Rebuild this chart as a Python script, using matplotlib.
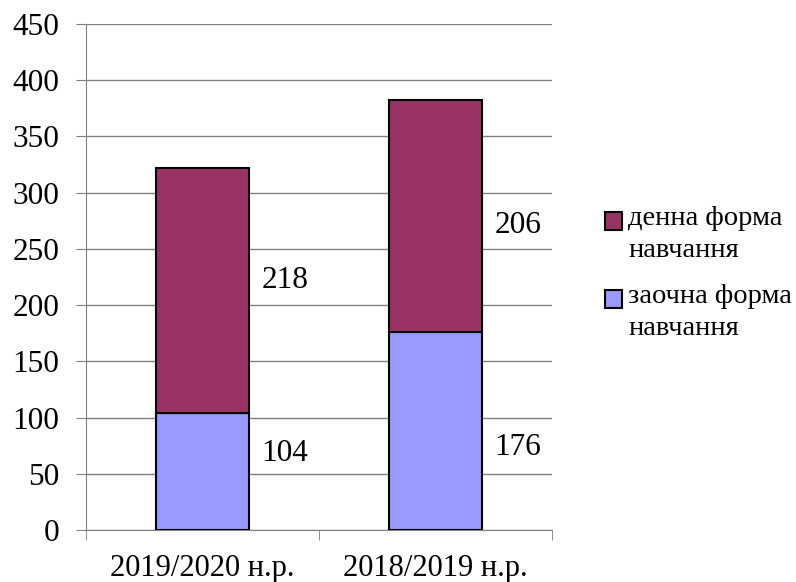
import matplotlib.pyplot as plt
import numpy as np
from matplotlib.patches import Rectangle

# Дані
years = ['2019/2020 н.р.', '2018/2019 н.р.']
zaochna = [104, 176]
denna = [218, 206]
series_names = ['денна форма\nнавчання', 'заочна форма\nнавчання']

plt.rcParams['font.family'] = ['Liberation Serif', 'DejaVu Serif']

fig = plt.figure(figsize=(7.96, 5.82), dpi=100)
ax = fig.add_axes([0.108, 0.0893, 0.585, 0.8695])

c_denna = '#993366'
c_zaochna = '#9999FF'

x = np.arange(len(years))
width = 0.4
ax.bar(x, zaochna, width, color=c_zaochna, edgecolor='black', linewidth=1.5, zorder=3)
ax.bar(x, denna, width, bottom=zaochna, color=c_denna, edgecolor='black', linewidth=1.5, zorder=3)

# Підписи значень праворуч від стовпчиків (зсув у пунктах, як в Excel)
shift_low = [13, -12]
shift_top = [7, -7]
for i in range(len(years)):
    ax.annotate(str(zaochna[i]), (x[i] + width / 2, zaochna[i] / 2),
                xytext=(9, shift_low[i]), textcoords='offset points',
                fontsize=22.5, va='center', ha='left')
    ax.annotate(str(denna[i]), (x[i] + width / 2, zaochna[i] + denna[i] / 2),
                xytext=(9, shift_top[i]), textcoords='offset points',
                fontsize=22.5, va='center', ha='left')

ax.set_xlim(-0.5, len(years) - 0.5)
ax.set_ylim(0, 450)
ax.set_yticks(np.arange(0, 451, 50))
ax.tick_params(axis='y', labelsize=22.5, length=7, color='#808080', pad=12)
ax.yaxis.grid(True, color='#808080', linewidth=1, zorder=0)

ax.set_xticks(x)
ax.set_xticklabels(years, fontsize=22)
ax.set_xticks(np.arange(-0.5, len(years), 1.0), minor=True)
ax.tick_params(axis='x', which='major', length=0, pad=17)
ax.tick_params(axis='x', which='minor', length=7, color='#808080')

for side in ['top', 'right']:
    ax.spines[side].set_visible(False)
ax.spines['left'].set_color('#808080')
ax.spines['bottom'].set_color('#808080')

# Легенда
leg_colors = [c_denna, c_zaochna]
leg_y = [0.6203, 0.4862]
line_step = 0.054
for name, col, yy in zip(series_names, leg_colors, leg_y):
    fig.patches.append(Rectangle((0.760, yy - 0.0155), 0.0215, 0.031, transform=fig.transFigure,
                                 facecolor=col, edgecolor='black', linewidth=1.5))
    for k, line in enumerate(name.split('\n')):
        fig.text(0.789, yy + 0.004 - k * line_step, line, fontsize=20.5, va='center', ha='left')

fig.savefig('out.png', dpi=100)
